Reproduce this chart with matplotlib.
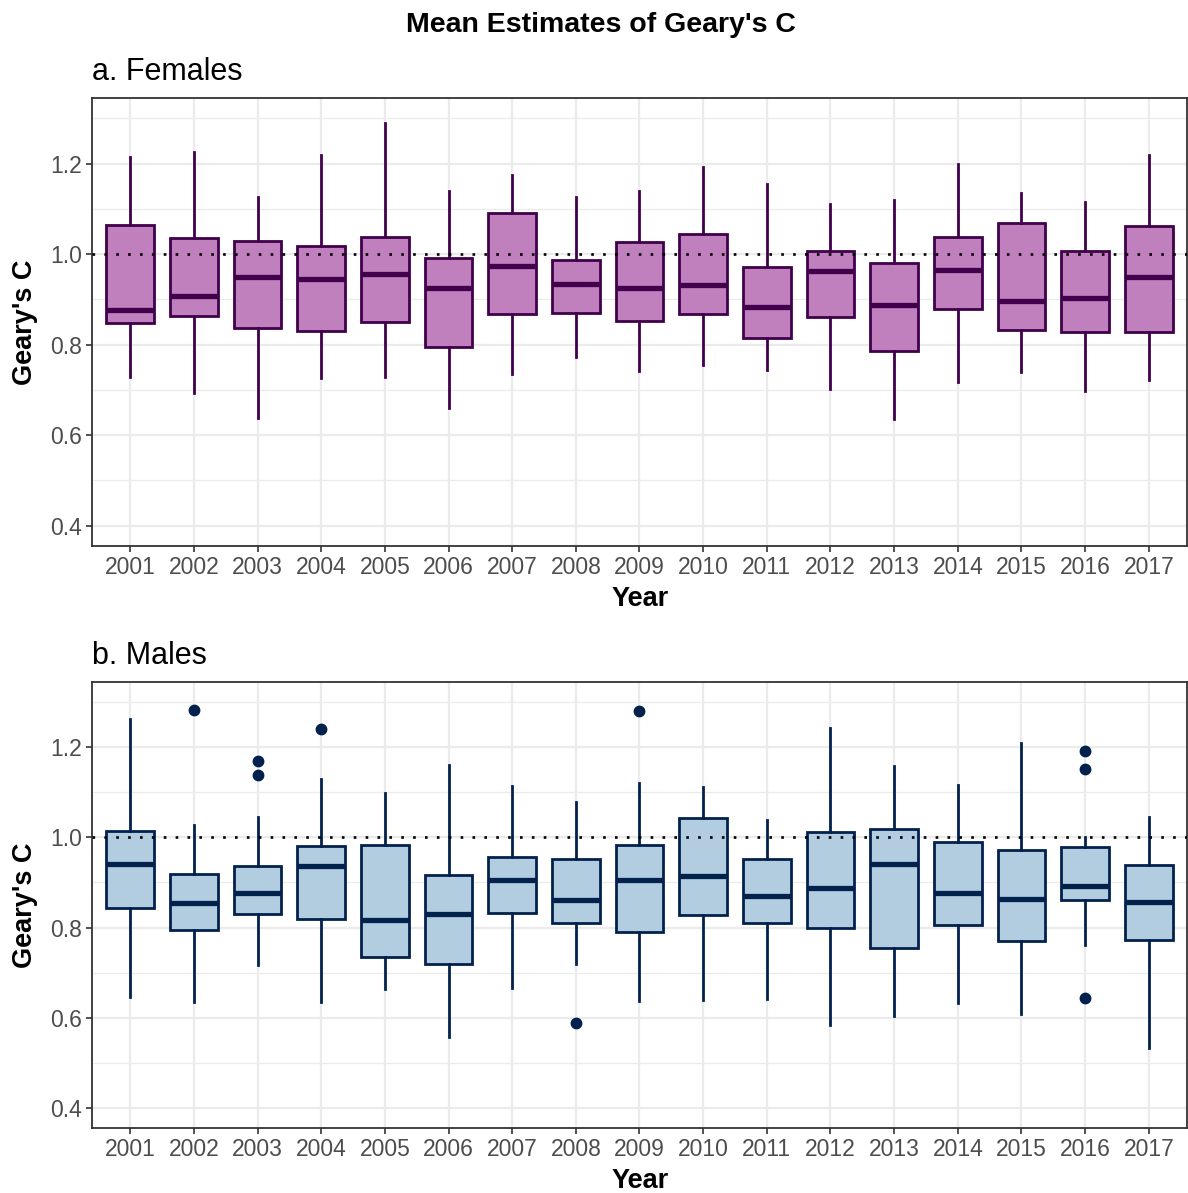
import matplotlib
matplotlib.use('Agg')
import matplotlib.pyplot as plt

plt.rcParams['font.family'] = ['Liberation Sans', 'DejaVu Sans']

years = [str(y) for y in range(2001, 2018)]

# Females: box statistics
f_whislo = [0.729, 0.692, 0.638, 0.727, 0.728, 0.661, 0.734, 0.773, 0.742,
            0.754, 0.744, 0.702, 0.635, 0.717, 0.740, 0.697, 0.722]
f_q1 = [0.847, 0.864, 0.836, 0.831, 0.849, 0.794, 0.867, 0.869, 0.853,
        0.867, 0.815, 0.861, 0.786, 0.878, 0.833, 0.828, 0.829]
f_med = [0.876, 0.907, 0.950, 0.945, 0.955, 0.925, 0.974, 0.935, 0.925,
         0.932, 0.884, 0.962, 0.887, 0.964, 0.897, 0.904, 0.949]
f_q3 = [1.064, 1.035, 1.029, 1.019, 1.038, 0.992, 1.090, 0.988, 1.027,
        1.044, 0.972, 1.006, 0.981, 1.037, 1.068, 1.007, 1.062]
f_whishi = [1.215, 1.225, 1.127, 1.220, 1.289, 1.140, 1.175, 1.127, 1.140,
            1.192, 1.155, 1.111, 1.120, 1.200, 1.134, 1.115, 1.219]
f_out = [[] for _ in years]

# Males
m_whislo = [0.645, 0.634, 0.717, 0.634, 0.663, 0.557, 0.666, 0.720, 0.636,
            0.640, 0.641, 0.583, 0.604, 0.632, 0.609, 0.762, 0.533]
m_q1 = [0.843, 0.794, 0.829, 0.820, 0.735, 0.720, 0.832, 0.810, 0.790,
        0.827, 0.810, 0.799, 0.754, 0.806, 0.770, 0.862, 0.773]
m_med = [0.942, 0.855, 0.877, 0.936, 0.817, 0.829, 0.905, 0.862, 0.905,
         0.915, 0.871, 0.888, 0.942, 0.876, 0.863, 0.892, 0.856]
m_q3 = [1.015, 0.919, 0.937, 0.981, 0.984, 0.917, 0.956, 0.952, 0.984,
        1.043, 0.952, 1.013, 1.018, 0.989, 0.972, 0.979, 0.939]
m_whishi = [1.263, 1.027, 1.046, 1.129, 1.099, 1.161, 1.114, 1.079, 1.120,
            1.113, 1.039, 1.243, 1.158, 1.117, 1.210, 1.000, 1.046]
m_out = [[], [1.283], [1.169, 1.138], [1.241], [], [], [], [0.589], [1.280],
         [], [], [], [], [], [], [1.191, 1.152, 0.644], []]

W, H = 1188, 1193


def fx(px):
    return px / W


def fy(py):
    return 1 - py / H


def panel(fig, top, bottom, title, lo, q1, med, q3, hi, out, fill, edge):
    ax = fig.add_axes([fx(92), fy(bottom), fx(1187) - fx(92), fy(top) - fy(bottom)])
    stats = []
    for i in range(len(years)):
        stats.append(dict(label=years[i], whislo=lo[i], q1=q1[i], med=med[i],
                          q3=q3[i], whishi=hi[i], fliers=out[i]))
    ax.bxp(stats, positions=range(1, len(years) + 1), widths=0.75,
           patch_artist=True, showcaps=False,
           boxprops=dict(facecolor=fill, edgecolor=edge, linewidth=2.0),
           whiskerprops=dict(color=edge, linewidth=2.0),
           medianprops=dict(color=edge, linewidth=3.8, solid_capstyle='butt'),
           flierprops=dict(marker='o', markerfacecolor=edge, markeredgecolor=edge,
                           markersize=7.5, linestyle='none'),
           zorder=3)
    ax.axhline(1.0, color='black', linewidth=1.9, linestyle=(0, (1, 3.5)), zorder=4)

    ax.set_xlim(0.4, 17.6)
    ax.set_ylim(0.355, 1.345)
    ax.set_yticks([0.4, 0.6, 0.8, 1.0, 1.2])
    ax.set_yticklabels(['0.4', '0.6', '0.8', '1.0', '1.2'])
    ax.set_yticks([0.5, 0.7, 0.9, 1.1, 1.3], minor=True)
    ax.set_xticks(range(1, len(years) + 1))
    ax.set_xticklabels(years)

    ax.grid(True, which='major', color='#EBEBEB', linewidth=1.6, zorder=0)
    ax.grid(True, which='minor', axis='y', color='#EBEBEB', linewidth=0.9, zorder=0)
    ax.set_axisbelow(True)
    ax.tick_params(axis='both', which='major', length=4.3, width=1.2, color='#333333',
                   labelsize=16.5, labelcolor='#4D4D4D', pad=3)
    ax.tick_params(axis='y', which='minor', length=0)
    for s in ax.spines.values():
        s.set_color('#333333')
        s.set_linewidth(1.3)

    fig.text(fx(92), fy(top - 18), title, fontsize=22, ha='left', va='baseline')
    fig.text(fx(640), fy(bottom + 53), 'Year', fontsize=19.5, fontweight='bold',
             ha='center', va='center')
    fig.text(fx(25), fy((top + bottom) / 2), "Geary's C", fontsize=19.5,
             fontweight='bold', rotation=90, ha='center', va='center')
    return ax


fig = plt.figure(figsize=(W / 100, H / 100), dpi=100)

fig.text(fx(601), fy(25), "Mean Estimates of Geary's C", fontsize=20.5,
         fontweight='bold', ha='center', va='center')

panel(fig, 98, 546, 'a. Females', f_whislo, f_q1, f_med, f_q3, f_whishi, f_out,
      '#C080BD', '#40004B')
panel(fig, 682, 1128, 'b. Males', m_whislo, m_q1, m_med, m_q3, m_whishi, m_out,
      '#B3CDE0', '#03214D')

fig.savefig('out.png', dpi=100, facecolor='white')
